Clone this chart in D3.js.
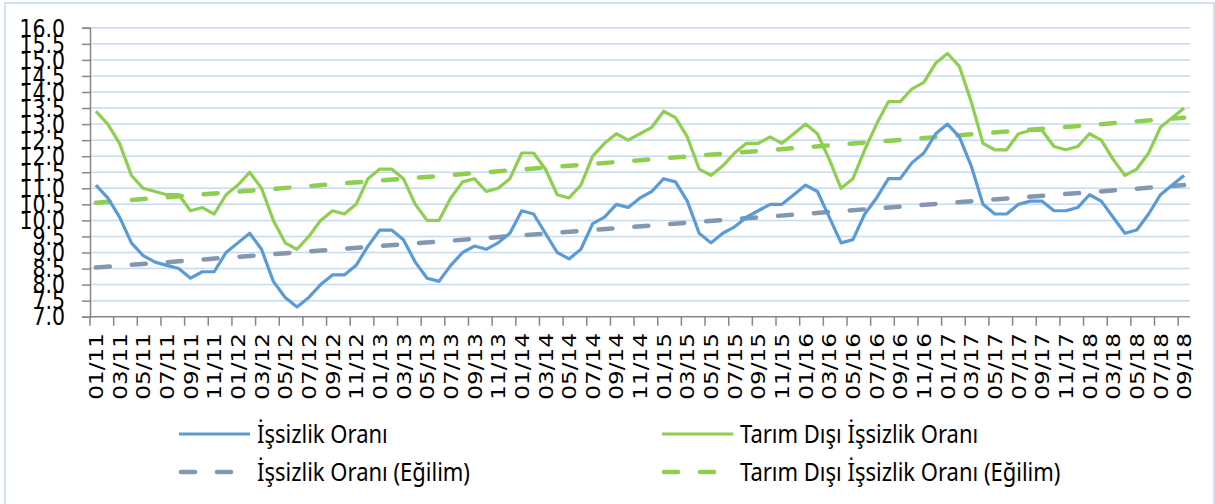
<!DOCTYPE html>
<html>
<head>
<meta charset="utf-8">
<script src="https://cdn.jsdelivr.net/npm/d3@7"></script>
<style>
  body { margin: 0; background: #fff; }
  svg { display: block; }
</style>
</head>
<body>
<svg id="chart" width="1215" height="504"></svg>
<script>
// monthly values, 01/2011 - 09/2018
const issizlik = [11.1, 10.7, 10.1, 9.3, 8.9, 8.7, 8.6, 8.5, 8.2, 8.4, 8.4, 9.0,
  9.3, 9.6, 9.1, 8.1, 7.6, 7.3, 7.6, 8.0, 8.3, 8.3, 8.6, 9.2,
  9.7, 9.7, 9.4, 8.7, 8.2, 8.1, 8.6, 9.0, 9.2, 9.1, 9.3, 9.6,
  10.3, 10.2, 9.6, 9.0, 8.8, 9.1, 9.9, 10.1, 10.5, 10.4, 10.7, 10.9,
  11.3, 11.2, 10.6, 9.6, 9.3, 9.6, 9.8, 10.1, 10.3, 10.5, 10.5, 10.8,
  11.1, 10.9, 10.1, 9.3, 9.4, 10.2, 10.7, 11.3, 11.3, 11.8, 12.1, 12.7,
  13.0, 12.6, 11.7, 10.5, 10.2, 10.2, 10.5, 10.6, 10.6, 10.3, 10.3, 10.4,
  10.8, 10.6, 10.1, 9.6, 9.7, 10.2, 10.8, 11.1, 11.4];

const tarimDisi = [13.4, 13.0, 12.4, 11.4, 11.0, 10.9, 10.8, 10.8, 10.3, 10.4, 10.2, 10.8,
  11.1, 11.5, 11.0, 10.0, 9.3, 9.1, 9.5, 10.0, 10.3, 10.2, 10.5, 11.3,
  11.6, 11.6, 11.3, 10.5, 10.0, 10.0, 10.7, 11.2, 11.3, 10.9, 11.0, 11.3,
  12.1, 12.1, 11.6, 10.8, 10.7, 11.1, 12.0, 12.4, 12.7, 12.5, 12.7, 12.9,
  13.4, 13.2, 12.6, 11.6, 11.4, 11.7, 12.1, 12.4, 12.4, 12.6, 12.4, 12.7,
  13.0, 12.7, 11.9, 11.0, 11.3, 12.2, 13.0, 13.7, 13.7, 14.1, 14.3, 14.9,
  15.2, 14.8, 13.7, 12.4, 12.2, 12.2, 12.7, 12.8, 12.8, 12.3, 12.2, 12.3,
  12.7, 12.5, 11.9, 11.4, 11.6, 12.1, 12.9, 13.2, 13.5];

// linear trend lines: value at first and last month
const issizlikTrend = [8.53, 11.1];
const tarimDisiTrend = [10.55, 13.2];

const months = d3.timeMonth.range(new Date(2011, 0, 1), new Date(2018, 9, 1)).map(d3.timeFormat("%m/%y"));
const yTicks = d3.range(7, 16.01, 0.5);

const seriesNames = ["İşsizlik Oranı", "Tarım Dışı İşsizlik Oranı",
  "İşsizlik Oranı (Eğilim)", "Tarım Dışı İşsizlik Oranı (Eğilim)"];

const BLUE = "#5b9bd5", GREEN = "#8fcf4f", GREY = "#8497b0";

const svg = d3.select("#chart");

// chart frame
svg.append("rect")
  .attr("x", 5).attr("y", 3)
  .attr("width", 1209).attr("height", 510)
  .attr("fill", "#fff")
  .attr("stroke", "#c5d8ef")
  .attr("stroke-width", 1.5);

const plotLeft = 90, plotRight = 1190, plotTop = 27.8, plotBottom = 316.7;

const x = d3.scaleBand().domain(months).range([plotLeft, plotRight]);
const y = d3.scaleLinear().domain([7, 16]).range([plotBottom, plotTop]);
const cx = (i) => x(months[i]) + x.bandwidth() / 2;

// gridlines
svg.append("g")
  .selectAll("line")
  .data(yTicks.slice(1))
  .enter().append("line")
  .attr("x1", plotLeft).attr("x2", plotRight)
  .attr("y1", (d) => y(d)).attr("y2", (d) => y(d))
  .attr("stroke", "#c6daf2")
  .attr("stroke-width", 1.5);

// y axis (labels are drawn tall, like the stretched original)
const yAxis = svg.append("g")
  .attr("transform", `translate(${plotLeft},0)`)
  .call(d3.axisLeft(y).tickValues(yTicks).tickFormat(d3.format(".1f")).tickSize(8).tickPadding(17));
yAxis.select(".domain").attr("stroke", "#868686").attr("stroke-width", 1.5);
yAxis.selectAll(".tick line").attr("stroke", "#868686").attr("stroke-width", 1.5);
yAxis.selectAll("text")
  .attr("font-family", "DejaVu Sans")
  .attr("font-size", 20.5)
  .attr("fill", "#000")
  .attr("transform", "scale(1,1.25)");

// x axis: tick every two months at category edge, label at centre
const xg = svg.append("g");
xg.append("line")
  .attr("x1", plotLeft).attr("x2", plotRight)
  .attr("y1", plotBottom).attr("y2", plotBottom)
  .attr("stroke", "#868686").attr("stroke-width", 1.5);

const every2 = months.filter((m, i) => i % 2 === 0);
xg.selectAll(".xt")
  .data(every2)
  .enter().append("line")
  .attr("class", "xt")
  .attr("x1", (d) => x(d)).attr("x2", (d) => x(d))
  .attr("y1", plotBottom).attr("y2", plotBottom + 9)
  .attr("stroke", "#868686").attr("stroke-width", 1.5);

xg.selectAll("text")
  .data(every2)
  .enter().append("text")
  .attr("transform", (d) => `translate(${x(d) + x.bandwidth() / 2},333) rotate(-90) scale(1.17,1)`)
  .attr("dy", "0.36em")
  .attr("text-anchor", "end")
  .attr("font-family", "DejaVu Sans")
  .attr("font-size", 19.8)
  .text((d) => d);

// trend lines
function trend(vals, color) {
  svg.append("line")
    .attr("x1", cx(0)).attr("x2", cx(months.length - 1))
    .attr("y1", y(vals[0])).attr("y2", y(vals[1]))
    .attr("stroke", color)
    .attr("stroke-width", 4.5)
    .attr("stroke-linecap", "round")
    .attr("stroke-dasharray", "14,22");
}
trend(issizlikTrend, GREY);
trend(tarimDisiTrend, GREEN);

// data lines
const line = d3.line().x((d, i) => cx(i)).y((d) => y(d));

svg.append("path")
  .datum(issizlik)
  .attr("d", line)
  .attr("fill", "none")
  .attr("stroke", BLUE)
  .attr("stroke-width", 3.2)
  .attr("stroke-linejoin", "round");

svg.append("path")
  .datum(tarimDisi)
  .attr("d", line)
  .attr("fill", "none")
  .attr("stroke", GREEN)
  .attr("stroke-width", 3.2)
  .attr("stroke-linejoin", "round");

// legend
const legendItems = [
  { name: seriesNames[0], color: BLUE, dash: null, x: 179, y: 434 },
  { name: seriesNames[1], color: GREEN, dash: null, x: 662, y: 434 },
  { name: seriesNames[2], color: GREY, dash: "14,22", x: 179, y: 472 },
  { name: seriesNames[3], color: GREEN, dash: "14,22", x: 662, y: 472 },
];

const lg = svg.append("g")
  .selectAll("g")
  .data(legendItems)
  .enter().append("g")
  .attr("transform", (d) => `translate(${d.x},${d.y})`);

lg.append("line")
  .attr("x1", (d) => d.dash ? 2 : 0).attr("x2", (d) => d.dash ? 56 : 71)
  .attr("stroke", (d) => d.color)
  .attr("stroke-width", (d) => d.dash ? 4.5 : 3.2)
  .attr("stroke-linecap", (d) => d.dash ? "round" : "butt")
  .attr("stroke-dasharray", (d) => d.dash);

lg.append("text")
  .attr("x", 78)
  .attr("dy", "0.35em")
  .attr("font-family", "Noto Sans")
  .attr("font-size", 22)
  .attr("fill", "#000")
  .attr("transform", "scale(1,1.12)")
  .text((d) => d.name);
</script>
</body>
</html>
